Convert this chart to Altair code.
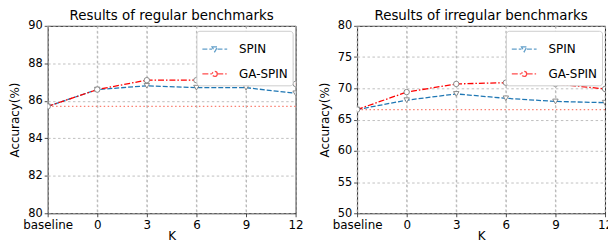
import altair as alt
import pandas as pd

categories = ["baseline", "0", "3", "6", "9", "12"]
series_names = ["SPIN", "GA-SPIN"]

reg_spin = [85.7, 86.6, 86.8, 86.7, 86.7, 86.4]
reg_ga = [85.7, 86.6, 87.1, 87.1, 87.0, 86.9]
reg_base = 85.7
reg_ticks = [80, 82, 84, 86, 88, 90]

irr_spin = [66.6, 68.1, 69.1, 68.4, 67.9, 67.7]
irr_ga = [66.6, 69.4, 70.7, 70.9, 70.7, 69.9]
irr_base = 66.6
irr_ticks = [50, 55, 60, 65, 70, 75, 80]

FONT = "DejaVu Sans"
PW = 250
PH = 189

TRI_PATH = "M-1,0H-0.22M0.22,0H1M-0.22,-0.19L0.22,-0.19L0,0.21Z"
CIRC_PATH = "M-1,0H-0.2M0.2,0H1M0.2,0A0.2,0.2 0 1,1 -0.2,0A0.2,0.2 0 1,1 0.2,0Z"


def panel(title, spin, ga, base, ticks):
    df = pd.DataFrame(
        {
            "K": categories * 2,
            "series": ["SPIN"] * len(categories) + ["GA-SPIN"] * len(categories),
            "value": spin + ga,
        }
    )
    xaxis = alt.Axis(title="K", labelAngle=0, titlePadding=0, labelPadding=3, grid=True,
                     gridColor="#b0b0b0", gridDash=[2.5, 2.5], gridWidth=0.8)
    xenc = alt.X(
        "K:O",
        scale=alt.Scale(type="point", domain=categories, padding=0),
        sort=categories,
        axis=xaxis,
    )
    yscale = alt.Scale(domain=[ticks[0], ticks[-1]], nice=False, zero=False)
    yaxis = alt.Axis(values=ticks, title="Accuracy(%)", titlePadding=6, labelOverlap=False,
                     labelFontSize=11.5)
    yenc = alt.Y("value:Q", scale=yscale, axis=yaxis)
    legend = alt.Legend(
        title=None,
        orient="none",
        legendX=150,
        legendY=5,
        symbolSize=625,
        symbolStrokeWidth=1.3,
        symbolFillColor="white",
        labelFontSize=12,
        labelFont=FONT,
        labelColor="black",
        labelOffset=11,
        padding=5,
        rowPadding=5,
        strokeColor="#cccccc",
        fillColor="white",
        cornerRadius=3,
    )
    color = alt.Color(
        "series:N",
        scale=alt.Scale(domain=series_names, range=["#1f77b4", "#ff0000"]),
        legend=legend,
    )
    dash = alt.StrokeDash(
        "series:N",
        scale=alt.Scale(domain=series_names, range=[[5, 2], [6, 2, 1.5, 2]]),
        legend=legend,
    )
    shape = alt.Shape(
        "series:N",
        scale=alt.Scale(domain=series_names, range=[TRI_PATH, CIRC_PATH]),
        legend=legend,
    )
    # vertical grid lines at every K category
    vgrid = (
        alt.Chart(pd.DataFrame({"K": categories}))
        .mark_rule(color="#b0b0b0", strokeDash=[2.5, 2.5], strokeWidth=0.8)
        .encode(x=xenc)
    )
    base_df = pd.DataFrame({"b": [base]})
    lines = (
        alt.Chart(df)
        .mark_line(strokeWidth=1.3, clip=True)
        .encode(x=xenc, y=yenc, color=color, strokeDash=dash)
    )
    rule = (
        alt.Chart(base_df)
        .mark_rule(color="#fa8072", strokeDash=[1.5, 2.5], strokeWidth=1.3)
        .encode(y=alt.Y("b:Q", scale=yscale, axis=yaxis))
    )
    # empty layer that only feeds the legend its symbol shapes
    legend_layer = (
        alt.Chart(df)
        .transform_filter("false")
        .mark_point(filled=False, fill="white", strokeWidth=1.3)
        .encode(x=xenc, y=yenc, color=color, strokeDash=dash, shape=shape)
    )

    def pts(name, shp):
        return (
            alt.Chart(df)
            .transform_filter(alt.datum.series == name)
            .mark_point(shape=shp, fill="white", stroke="#808080", strokeWidth=0.9,
                        size=30, opacity=1, filled=False, fillOpacity=1, clip=True)
            .encode(x=xenc, y=yenc)
        )

    return alt.layer(vgrid, lines, rule, legend_layer, pts("SPIN", "triangle-down"),
                     pts("GA-SPIN", "circle")).properties(
        width=PW,
        height=PH,
        title=alt.TitleParams(title, fontSize=13.5, font=FONT, fontWeight="normal",
                              offset=-3, frame="group", color="black"),
    )


left = panel("Results of regular benchmarks", reg_spin, reg_ga, reg_base, reg_ticks)
right = panel("Results of irregular benchmarks", irr_spin, irr_ga, irr_base, irr_ticks)

chart = (
    alt.hconcat(left, right, spacing=13)
    .resolve_scale(color="independent", strokeDash="independent", shape="independent", y="independent")
    .configure(padding={"left": 0, "top": 0, "right": -6, "bottom": 0}, background="white")
    .configure_view(stroke="#222222", strokeWidth=1)
    .configure_axis(
        domain=False,
        labelFont=FONT,
        labelFontSize=12,
        labelColor="black",
        labelPadding=2,
        titleFont=FONT,
        titleFontSize=12,
        titleFontWeight="normal",
        titleColor="black",
        tickColor="#222222",
        tickSize=3.5,
        tickWidth=0.8,
        gridColor="#b0b0b0",
        gridDash=[2.5, 2.5],
        gridWidth=0.8,
    )
    .configure_axisX(grid=True)
)

chart.save("out.html", embed_options={"renderer": "svg", "actions": False})
